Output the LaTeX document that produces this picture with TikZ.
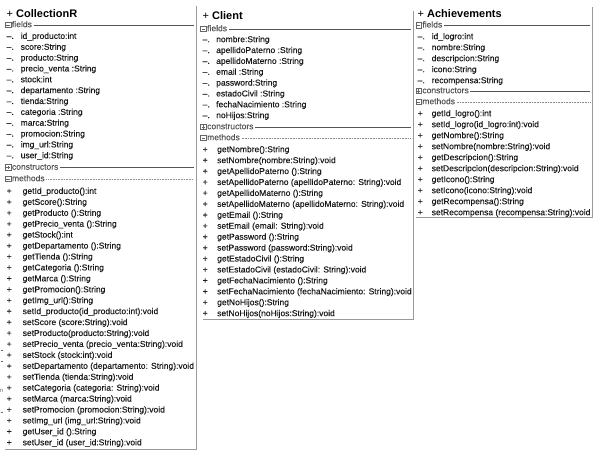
\documentclass[tikz,border=0pt]{standalone}
\usepackage{fontspec}
\setmainfont{Liberation Sans}
\newfontfamily\rowfam[FakeBold=0.25]{Liberation Sans}
\definecolor{txt}{HTML}{1A1A1A}
\definecolor{sectxt}{HTML}{555555}
\definecolor{secgray}{HTML}{555555}
\definecolor{dotgray}{HTML}{8A8A8A}
\definecolor{bordergray}{HTML}{9A9A9A}
\definecolor{icongray}{HTML}{666666}
\begin{document}
\begin{tikzpicture}[x=1pt,y=-1pt,
  rowtext/.style={anchor=west,inner sep=0pt,text height=6.2pt,text depth=1.8pt,font=\rowfam\fontsize{8.5}{10}\selectfont,text=txt},
  symtext/.style={rowtext},
  sechead/.style={anchor=west,inner sep=0pt,text height=6.2pt,text depth=1.8pt,font=\rowfam\fontsize{8.5}{10}\selectfont,text=sectxt},
  ctitle/.style={anchor=west,inner sep=0pt,font=\fontsize{11}{13}\selectfont,text=black,text height=8pt,text depth=2.5pt},
  iconbox/.style={draw=icongray,line width=0.5pt,minimum size=5.5pt,inner sep=0pt},
  iconmark/.style={draw=icongray,line width=0.6pt},
  solidsec/.style={draw=secgray,line width=0.6pt},
  dotsec/.style={draw=dotgray,line width=0.6pt,dash pattern=on 0.7pt off 0.9pt},
  classframe/.style={draw=bordergray,line width=1pt},
  stray/.style={draw=icongray,line width=0.5pt},
]
\useasboundingbox (0,0) rectangle (598,454);

% ================= CollectionR =================
\coordinate (cR) at (193.5,0);
\node[ctitle] (cT) at (6.5,14.5) {+ \textbf{CollectionR}};
% fields
\node[iconbox] (cFi) at (8,25) {};
\draw[iconmark] ([xshift=1.2pt]cFi.west) -- ([xshift=-1.2pt]cFi.east);
\node[sechead] (cF) at (11.8,25) {fields};
\draw[solidsec] ([xshift=1.5pt]cF.east) -- (cF.east -| cR);
\foreach \t [count=\i from 0] in {id\_producto:int,score:String,producto:String,precio\_venta :String,stock:int,departamento :String,tienda:String,categoria :String,marca:String,promocion:String,img\_url:String,user\_id:String}{
  \node[symtext] (cFs\i) at (6.5,{36.7+\i*10.85}) {–.};
  \node[rowtext] (cFr\i) at (20.5,{36.7+\i*10.85}) {\t};
}
% constructors
\node[iconbox] (cCi) at (8,167.5) {};
\draw[iconmark] ([xshift=1.2pt]cCi.west) -- ([xshift=-1.2pt]cCi.east);
\draw[iconmark] ([yshift=-1.2pt]cCi.north) -- ([yshift=1.2pt]cCi.south);
\node[sechead] (cC) at (11.8,167.5) {constructors};
\draw[solidsec] ([xshift=1.5pt]cC.east) -- (cC.east -| cR);
% methods
\node[iconbox] (cMi) at (8,179) {};
\draw[iconmark] ([xshift=1.2pt]cMi.west) -- ([xshift=-1.2pt]cMi.east);
\node[sechead] (cM) at (11.8,179) {methods};
\draw[dotsec] ([xshift=1.5pt]cM.east) -- (cM.east -| cR);
\foreach \t [count=\i from 0] in {getId\_producto():int,getScore():String,getProducto ():String,getPrecio\_venta ():String,getStock():int,getDepartamento ():String,getTienda ():String,getCategoria ():String,getMarca ():String,getPromocion():String,getImg\_url():String,setId\_producto(id\_producto:int):void,setScore (score:String):void,setProducto(producto:String):void,setPrecio\_venta (precio\_venta:String):void,setStock (stock:int):void,setDepartamento (departamento: String):void,setTienda (tienda:String):void,setCategoria (categoria: String):void,setMarca (marca:String):void,setPromocion (promocion:String):void,setImg\_url (img\_url:String):void,getUser\_id ():String,setUser\_id (user\_id:String):void}{
  \node[symtext] (cMs\i) at (6.5,{191.7+\i*10.93}) {+};
  \node[rowtext] (cMr\i) at (22.5,{191.7+\i*10.93}) {\t};
}
\coordinate (cB1) at (196,6.5);
\coordinate (cB2) at (196,450);
\coordinate (cB3) at (5,450);
\draw[classframe] (cB1) -- (cB2) -- (cB3);

% stray marks at the left edge
\draw[stray] (0.5,350) -- (2.5,350);
\draw[stray] (0.5,361) -- (2.5,361);
\node[anchor=center,inner sep=0pt,font=\fontsize{6}{7}\selectfont,text=icongray] (strayn) at (1.5,391) {n};
\draw[stray] (0.5,412) -- (3,412);

% ================= Client =================
\coordinate (kR) at (410.5,0);
\node[ctitle] (kT) at (202.5,17) {+ \textbf{Client}};
\node[iconbox] (kFi) at (203.3,29) {};
\draw[iconmark] ([xshift=1.2pt]kFi.west) -- ([xshift=-1.2pt]kFi.east);
\node[sechead] (kF) at (207,29) {fields};
\draw[solidsec] ([xshift=1.5pt]kF.east) -- (kF.east -| kR);
\foreach \t [count=\i from 0] in {nombre:String,apellidoPaterno :String,apellidoMaterno :String,email :String,password:String,estadoCivil :String,fechaNacimiento :String,noHijos:String}{
  \node[symtext] (kFs\i) at (202.5,{40+\i*10.85}) {–.};
  \node[rowtext] (kFr\i) at (216,{40+\i*10.85}) {\t};
}
\node[iconbox] (kCi) at (203.3,127) {};
\draw[iconmark] ([xshift=1.2pt]kCi.west) -- ([xshift=-1.2pt]kCi.east);
\draw[iconmark] ([yshift=-1.2pt]kCi.north) -- ([yshift=1.2pt]kCi.south);
\node[sechead] (kC) at (207,127) {constructors};
\draw[solidsec] ([xshift=1.5pt]kC.east) -- (kC.east -| kR);
\node[iconbox] (kMi) at (203.3,138) {};
\draw[iconmark] ([xshift=1.2pt]kMi.west) -- ([xshift=-1.2pt]kMi.east);
\node[sechead] (kM) at (207,138) {methods};
\draw[dotsec] ([xshift=1.5pt]kM.east) -- (kM.east -| kR);
\foreach \t [count=\i from 0] in {getNombre():String,setNombre(nombre:String):void,getApellidoPaterno ():String,setApellidoPaterno (apellidoPaterno: String):void,getApellidoMaterno ():String,setApellidoMaterno (apellidoMaterno: String):void,getEmail ():String,setEmail (email: String):void,getPassword ():String,setPassword (password:String):void,getEstadoCivil ():String,setEstadoCivil (estadoCivil: String):void,getFechaNacimiento ():String,setFechaNacimiento (fechaNacimiento: String):void,getNoHijos():String,setNoHijos(noHijos:String):void}{
  \node[symtext] (kMs\i) at (202.5,{150+\i*10.93}) {+};
  \node[rowtext] (kMr\i) at (217,{150+\i*10.93}) {\t};
}
\coordinate (kB1) at (413,11);
\coordinate (kB2) at (413,320);
\coordinate (kB3) at (203,320);
\draw[classframe] (kB1) -- (kB2) -- (kB3);

% ================= Achievements =================
\coordinate (aR) at (590,0);
\node[ctitle] (aT) at (417.5,15) {+ \textbf{Achievements}};
\node[iconbox] (aFi) at (418.5,25.3) {};
\draw[iconmark] ([xshift=1.2pt]aFi.west) -- ([xshift=-1.2pt]aFi.east);
\node[sechead] (aF) at (422.2,25.3) {fields};
\draw[solidsec] ([xshift=1.5pt]aF.east) -- (aF.east -| aR);
\foreach \t [count=\i from 0] in {id\_logro:int,nombre:String,descripcion:String,icono:String,recompensa:String}{
  \node[symtext] (aFs\i) at (417.5,{37+\i*11}) {–.};
  \node[rowtext] (aFr\i) at (431.5,{37+\i*11}) {\t};
}
\node[iconbox] (aCi) at (418.5,91) {};
\draw[iconmark] ([xshift=1.2pt]aCi.west) -- ([xshift=-1.2pt]aCi.east);
\draw[iconmark] ([yshift=-1.2pt]aCi.north) -- ([yshift=1.2pt]aCi.south);
\node[sechead] (aC) at (422.2,91) {constructors};
\draw[solidsec] ([xshift=1.5pt]aC.east) -- (aC.east -| aR);
\node[iconbox] (aMi) at (418.5,102) {};
\draw[iconmark] ([xshift=1.2pt]aMi.west) -- ([xshift=-1.2pt]aMi.east);
\node[sechead] (aM) at (422.2,102) {methods};
\draw[dotsec] ([xshift=1.5pt]aM.east) -- (aM.east -| aR);
\foreach \t [count=\i from 0] in {getId\_logro():int,setId\_logro(id\_logro:int):void,getNombre():String,setNombre(nombre:String):void,getDescripcion():String,setDescripcion(descripcion:String):void,getIcono():String,setIcono(icono:String):void,getRecompensa():String,setRecompensa (recompensa:String):void}{
  \node[symtext] (aMs\i) at (417.5,{114+\i*11}) {+};
  \node[rowtext] (aMr\i) at (431.5,{114+\i*11}) {\t};
}
\coordinate (aB1) at (592,7.5);
\coordinate (aB2) at (592,218);
\coordinate (aB3) at (416,218);
\draw[classframe] (aB1) -- (aB2) -- (aB3);
\end{tikzpicture}
\end{document}
